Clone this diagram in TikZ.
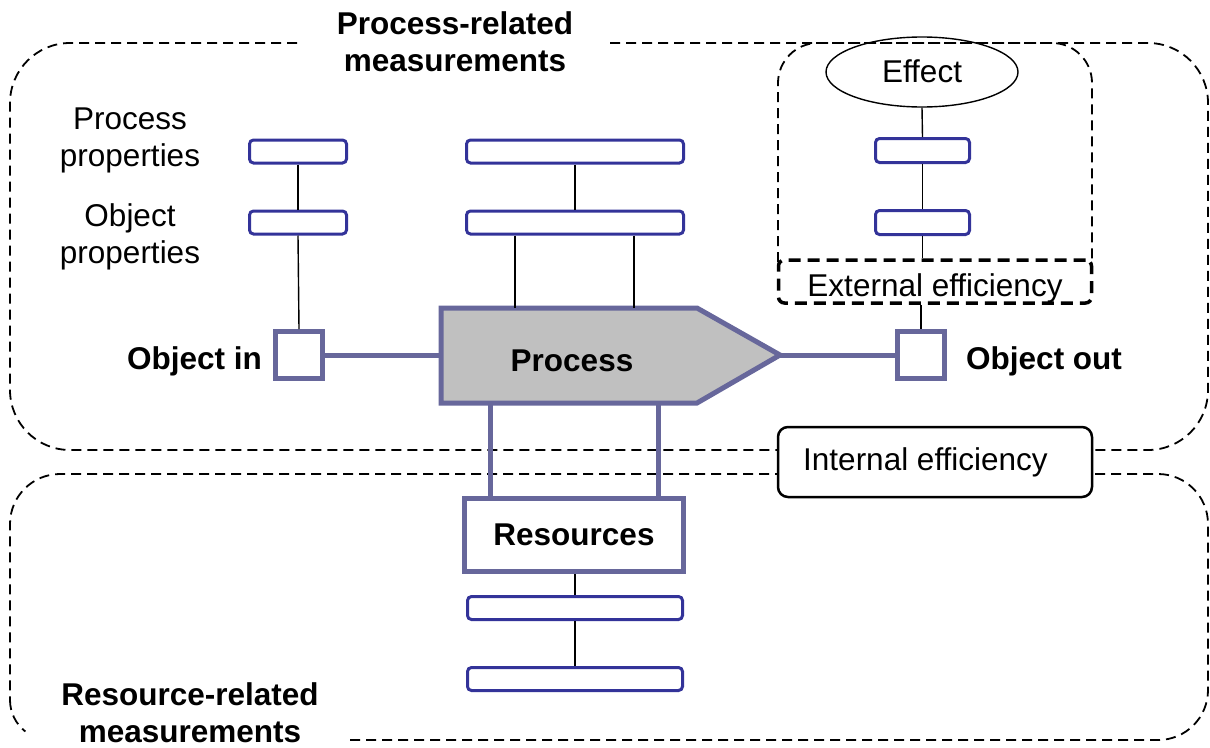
\documentclass[tikz,border=0pt]{standalone}
\usepackage{fontspec}
\setmainfont{Liberation Sans}
\usetikzlibrary{shapes.geometric}
\definecolor{flowpurple}{RGB}{103,103,155}
\definecolor{measblue}{RGB}{51,51,153}
\definecolor{procgray}{RGB}{192,192,192}
\newcommand{\txt}{\fontsize{31.5}{37}\selectfont}
\newcommand{\btxt}{\fontsize{31.5}{37}\selectfont\bfseries}
\tikzset{
  meas/.style={draw=measblue, line width=3pt, rounded corners=4pt, fill=white,
               minimum height=23pt, inner sep=0pt},
  objbox/.style={draw=flowpurple, line width=5pt, fill=white, minimum width=47pt,
                 minimum height=47pt, inner sep=0pt},
  flow/.style={draw=flowpurple, line width=5pt},
  link/.style={draw=black, line width=1.4pt},
  zone/.style={draw=black, line width=1.8pt, dash pattern=on 10pt off 6pt},
  lbl/.style={align=center, inner sep=0pt},
}
\begin{document}
\begin{tikzpicture}[x=1pt, y=-1pt, font=\txt]
\useasboundingbox (0,0) rectangle (1210,747);

% measurement zones
\draw[zone, rounded corners=60pt] (610,43) -- (1208,43) -- (1208,450) -- (10,450) -- (10,43) -- (300,43);
\draw[zone, rounded corners=50pt] (350,740) -- (1208,740) -- (1208,474) -- (10,474) -- (10,700);
\draw[zone] (10,700) arc[start angle=180, end angle=128, radius=40];
\draw[zone, rounded corners=40pt] (778,262) -- (778,43) -- (1092,43) -- (1092,262);

% zone titles
\node[lbl, font=\btxt] (ptitle) at (455,42) {Process-related\\measurements};
\node[lbl, font=\btxt] (rtitle) at (190,713) {Resource-related\\measurements};

% side labels
\node[lbl] (pprop) at (130,140) {Process\\properties};
\node[lbl] (oprop) at (130,237) {Object\\properties};

% process shape
\coordinate (pin) at (441,355);
\coordinate (ptip) at (780,355);
\coordinate (pa) at (515,308);
\coordinate (pb) at (634,308);
\coordinate (pc) at (490,403);
\coordinate (pd) at (658,403);
\draw[flow, fill=procgray, line join=miter] (441,308) -- (697,308) -- (ptip) -- (697,403) -- (441,403) -- cycle;
\node[font=\btxt] (proc) at (572,361) {Process};

% objects
\node[objbox] (oin) at (299,355) {};
\node[objbox] (oout) at (921,355) {};
\node[anchor=east, inner sep=0pt, font=\btxt] (oinl) at (262,361) {Object in};
\node[anchor=west, inner sep=0pt, font=\btxt] (ooutl) at (966,361) {Object out};
\draw[flow] (oin.east) -- (pin);
\draw[flow] (ptip) -- (oout.west);

% resources
\node[objbox, minimum width=219pt, minimum height=73pt, font=\btxt] (res) at (574,535) {Resources};
\draw[flow] (pc) -- (res.north -| pc);
\draw[flow] (pd) -- (res.north -| pd);

% measurement bars
\node[meas, minimum width=97pt] (l1) at (298,151.5) {};
\node[meas, minimum width=97pt] (l2) at (298,222.5) {};
\node[meas, minimum width=217pt] (m1) at (575,151.5) {};
\node[meas, minimum width=217pt] (m2) at (575,222.5) {};
\node[meas, minimum width=94pt, minimum height=24pt] (e1) at (922.5,150.5) {};
\node[meas, minimum width=94pt, minimum height=24pt] (e2) at (922.5,222.5) {};
\node[meas, minimum width=215pt] (r1) at (575,608) {};
\node[meas, minimum width=215pt] (r2) at (575,679) {};

% effect and efficiency boxes
\node[draw, ellipse, line width=1.4pt, minimum width=192pt, minimum height=70pt, inner sep=0pt] (eff) at (922,72) {};
\node (effl) at (922,71) {Effect};
\node[draw, line width=3.5pt, dash pattern=on 12pt off 7pt, rounded corners=6pt, fill=white,
      minimum width=313pt, minimum height=43pt, inner sep=0pt] (ext) at (935,281.5) {};
\node (extl) at (935,288) {External efficiency};
\node[draw, line width=2.5pt, rounded corners=10pt, fill=white,
      minimum width=314pt, minimum height=70pt, inner sep=0pt] (intb) at (935,462) {};
\node[anchor=west, inner sep=0pt] (intl) at (803,462) {Internal efficiency};

% links
\draw[link] (l1.south) -- (l2.north);
\draw[link] (l2.south) -- (oin.north);
\draw[link] (m1.south) -- (m2.north);
\draw[link] (m2.south -| pa) -- (pa);
\draw[link] (m2.south -| pb) -- (pb);
\draw[link] (eff.south) -- (e1.north);
\draw[link] (e1.south) -- (e2.north);
\draw[link] (e2.south) -- (ext.north -| e2.south);
\draw[link] (ext.south -| oout.north) -- (oout.north);
\draw[link] (res.south -| r1.north) -- (r1.north);
\draw[link] (r1.south) -- (r2.north);
\end{tikzpicture}
\end{document}
